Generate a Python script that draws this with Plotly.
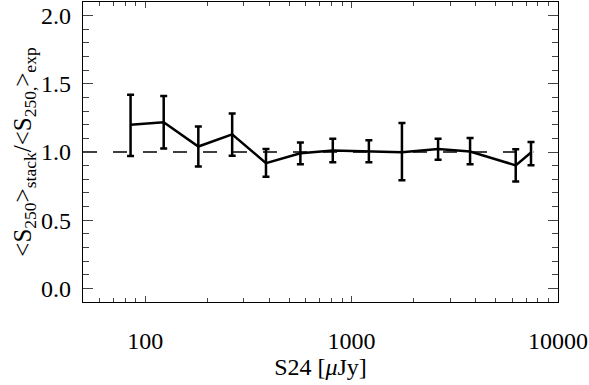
import plotly.graph_objects as go

# stacked flux ratio vs 24um flux
s24 = [85, 123, 181, 264, 385, 565, 811, 1213, 1754, 2625, 3750, 6240, 7400]
ratio = [1.20, 1.218, 1.04, 1.129, 0.918, 0.991, 1.011, 1.002, 0.998, 1.022, 1.004, 0.902, 0.996]
err_hi = [1.42, 1.41, 1.187, 1.282, 1.022, 1.069, 1.098, 1.087, 1.213, 1.098, 1.102, 1.02, 1.073]
err_lo = [0.97, 1.025, 0.893, 0.973, 0.818, 0.911, 0.924, 0.924, 0.793, 0.944, 0.911, 0.784, 0.902]

ref_x = [50, 7600]
ref_y = [1.0, 1.0]

plus = [h - r for h, r in zip(err_hi, ratio)]
minus = [r - l for r, l in zip(ratio, err_lo)]

font = "Liberation Serif"

fig = go.Figure()
fig.add_trace(go.Scatter(x=ref_x, y=ref_y, mode="lines",
                         line=dict(color="black", width=1.3, dash="14px,16px"),
                         showlegend=False, hoverinfo="skip"))
fig.add_trace(go.Scatter(
    x=s24, y=ratio, mode="lines",
    line=dict(color="black", width=2.5),
    error_y=dict(type="data", symmetric=False, array=plus, arrayminus=minus,
                 color="black", thickness=2.5, width=3.5),
    showlegend=False))

fig.update_xaxes(
    type="log", range=[1.699, 4], tickmode="linear", tick0=0, dtick=1,
    tickformat="d", ticks="inside", ticklen=6, tickcolor="#444", tickwidth=1,
    showline=True, linecolor="black", linewidth=1.2, mirror="ticks",
    showgrid=False, zeroline=False, ticklabelstandoff=17,
    minor=dict(ticks="inside", ticklen=4, tickcolor="#444", dtick="D1", showgrid=False),
    title=dict(text="S24 [<i>μ</i>Jy]", font=dict(size=24, family=font, color="black"), standoff=4),
    tickfont=dict(size=24, family=font, color="black"))
fig.update_yaxes(
    range=[-0.1, 2.1], tickmode="linear", tick0=0, dtick=0.5, tickformat=".1f",
    ticks="inside", ticklen=10, tickcolor="#444", tickwidth=1,
    showline=True, linecolor="black", linewidth=1.2, mirror="ticks",
    showgrid=False, zeroline=False, ticklabelstandoff=6,
    minor=dict(ticks="inside", ticklen=6, tickcolor="#444", dtick=0.1, showgrid=False),
    title=dict(text="&lt;S<sub>250</sub>&gt;<sub>stack</sub>/&lt;S<sub>250,</sub>&gt;<sub>exp</sub>",
               font=dict(size=25, family=font, color="black"), standoff=2),
    tickfont=dict(size=24, family=font, color="black"))

fig.update_layout(width=589, height=385, margin=dict(l=83, r=31, t=2, b=83),
                  paper_bgcolor="white", plot_bgcolor="white")

fig.write_html("out.html", config={"displayModeBar": False},
               post_script="document.body.style.margin='0';")
